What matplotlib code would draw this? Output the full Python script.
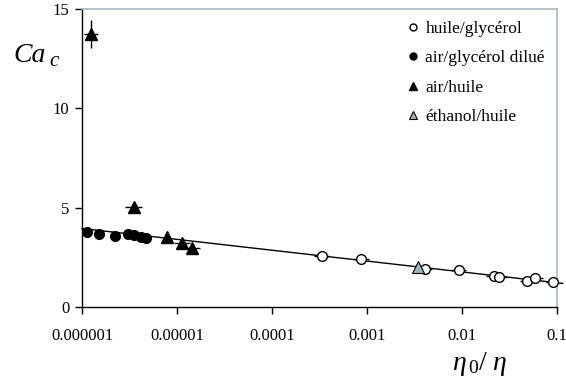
import numpy as np
import matplotlib
matplotlib.use("Agg")
import matplotlib.pyplot as plt

plt.rcParams['font.family'] = ['Liberation Serif', 'DejaVu Serif']
plt.rcParams['mathtext.fontset'] = 'custom'
plt.rcParams['mathtext.it'] = 'Liberation Serif:italic'
plt.rcParams['mathtext.rm'] = 'Liberation Serif'

# huile/glycérol (open circles)
hg_x = [3.33e-4, 8.65e-4, 4.05e-3, 9.2e-3, 0.0217, 0.0247, 0.0487, 0.0586, 0.0914]
hg_y = [2.58, 2.43, 1.92, 1.86, 1.57, 1.50, 1.30, 1.44, 1.24]
hg_xerr_dec = [0.08, 0.08, 0.08, 0.08, 0.08, 0.08, 0.08, 0.08, 0.08]

# air/glycérol dilué (filled circles)
ag_x = [1.13e-6, 1.52e-6, 2.24e-6, 3.03e-6, 3.5e-6, 4.15e-6, 4.75e-6]
ag_y = [3.78, 3.65, 3.56, 3.66, 3.60, 3.53, 3.45]

# air/huile (filled triangles)
ah_x = [1.24e-6, 3.52e-6, 7.85e-6, 1.13e-5, 1.45e-5]
ah_y = [13.75, 5.05, 3.50, 3.22, 2.98]
ah_xerr_dec = [0.075, 0.09, 0.0, 0.08, 0.08]
ah_yerr = [0.7, 0.0, 0.0, 0.0, 0.0]

# éthanol/huile (grey triangle)
eh_x = [3.44e-3]
eh_y = [2.02]

# fitted line: Ca = a + b*log10(x)
fit_a = 3.95 - 0.546 * 6
fit_b = -0.546
fit_xlim = [1e-6, 0.115]

fig = plt.figure(figsize=(5.66, 3.83), dpi=100)
ax = fig.add_axes([82/566, 1-307/383, (557-82)/566, (307-9)/383])

xl = np.logspace(np.log10(fit_xlim[0]), np.log10(fit_xlim[1]), 50)
ax.plot(xl, fit_a + fit_b*np.log10(xl), color='black', lw=1.0, clip_on=False, zorder=2)

def xerr_of(x, dec):
    x = np.asarray(x); d = np.asarray(dec)
    return [x - x/10**d, x*10**d - x]

ax.errorbar(hg_x, hg_y, xerr=xerr_of(hg_x, hg_xerr_dec), fmt='none', ecolor='black', elinewidth=1.0, capsize=0, zorder=3)
ax.plot(hg_x, hg_y, 'o', mfc='white', mec='black', ms=7, mew=1.0, zorder=4, clip_on=False)

ax.plot(ag_x, ag_y, 'o', mfc='black', mec='black', ms=7, zorder=4)

ax.errorbar(ah_x, ah_y, xerr=xerr_of(ah_x, ah_xerr_dec), yerr=ah_yerr, fmt='none', ecolor='black', elinewidth=1.0, capsize=0, zorder=3)
ax.plot(ah_x, ah_y, '^', mfc='black', mec='black', ms=8, zorder=4)

ax.plot(eh_x, eh_y, '^', mfc='#9fb3bd', mec='black', ms=8, mew=0.8, zorder=4)

ax.set_xscale('log')
ax.set_xlim(1e-6, 0.1)
ax.set_ylim(0, 15)
ax.set_yticks([0, 5, 10, 15])
ax.set_xticks([1e-6, 1e-5, 1e-4, 1e-3, 1e-2, 1e-1])
ax.set_xticklabels(['0.000001', '0.00001', '0.0001', '0.001', '0.01', '0.1'])
ax.xaxis.set_minor_locator(matplotlib.ticker.NullLocator())
ax.tick_params(axis='both', which='major', direction='out', length=5, width=1.0, labelsize=12)
ax.tick_params(axis='x', pad=10)
ax.tick_params(axis='y', pad=4)
for s in ['left', 'bottom']:
    ax.spines[s].set_color('black'); ax.spines[s].set_linewidth(1.0)
for s in ['top', 'right']:
    ax.spines[s].set_color('#a9bac4'); ax.spines[s].set_linewidth(1.2)

from matplotlib.lines import Line2D
handles = [
    Line2D([], [], ls='none', marker='o', mfc='white', mec='black', ms=5),
    Line2D([], [], ls='none', marker='o', mfc='black', mec='black', ms=5),
    Line2D([], [], ls='none', marker='^', mfc='black', mec='black', ms=6),
    Line2D([], [], ls='none', marker='^', mfc='#9fb3bd', mec='black', ms=6, mew=0.8),
]
labels = ['huile/glycérol', 'air/glycérol dilué', 'air/huile', 'éthanol/huile']
leg = ax.legend(handles, labels, loc='upper right', frameon=False, fontsize=12.5,
                handlelength=0.6, handletextpad=0.4, labelspacing=0.75,
                borderaxespad=0.3, bbox_to_anchor=(1.0, 1.0))

fig.text(13/566, 1-55/383, 'Ca', fontsize=20, va='center', ha='left', family='Liberation Serif', style='italic')
fig.text(49/566, 1-61/383, 'c', fontsize=15, va='center', ha='left', family='Liberation Serif', style='italic')
fig.text(452/566, 1-364/383, r'$\eta_{\,0}/\ \eta$', fontsize=20, va='center', ha='left')

fig.savefig('out.png', dpi=100)
